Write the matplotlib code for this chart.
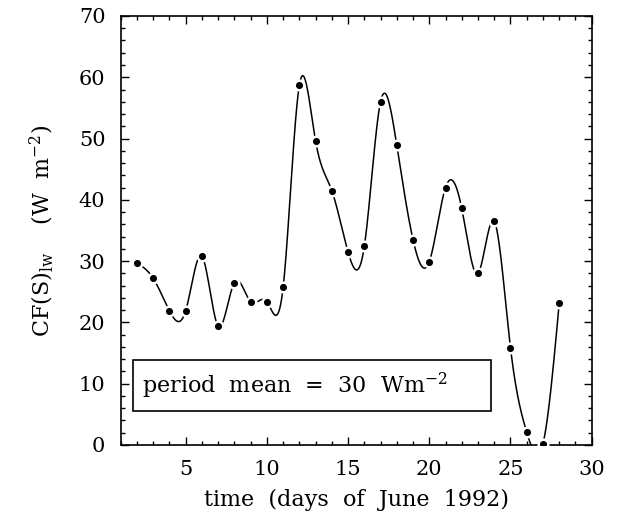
import numpy as np
import matplotlib
matplotlib.use("Agg")
import matplotlib.pyplot as plt
from matplotlib.patches import Rectangle

# ---- data ----
days = [2, 3, 4, 5, 6, 7, 8, 9, 10, 11, 12, 13, 14, 15,
        16, 17, 18, 19, 20, 21, 22, 23, 24, 25, 26, 27, 28]
cf_lw = [29.7, 27.2, 21.9, 21.9, 30.8, 19.4, 26.5, 23.4, 23.4, 25.7, 58.7, 49.6, 41.5, 31.5,
         32.4, 56.0, 48.9, 33.5, 29.9, 42.0, 38.6, 28.0, 36.5, 15.9, 2.1, 0.2, 23.1]
x_ticks = [5, 10, 15, 20, 25, 30]
y_ticks = [0, 10, 20, 30, 40, 50, 60, 70]
period_mean = 30


def natural_spline(x, y, xs):
    x = np.asarray(x, float)
    y = np.asarray(y, float)
    n = len(x)
    h = np.diff(x)
    A = np.zeros((n, n))
    b = np.zeros(n)
    A[0, 0] = 1
    A[-1, -1] = 1
    for i in range(1, n - 1):
        A[i, i - 1] = h[i - 1]
        A[i, i] = 2 * (h[i - 1] + h[i])
        A[i, i + 1] = h[i]
        b[i] = 3 * ((y[i + 1] - y[i]) / h[i] - (y[i] - y[i - 1]) / h[i - 1])
    c = np.linalg.solve(A, b)
    bb = (y[1:] - y[:-1]) / h - h * (2 * c[:-1] + c[1:]) / 3
    d = (c[1:] - c[:-1]) / (3 * h)
    idx = np.clip(np.searchsorted(x, xs) - 1, 0, n - 2)
    dx = xs - x[idx]
    return y[idx] + bb[idx] * dx + c[idx] * dx ** 2 + d[idx] * dx ** 3


plt.rcParams['font.family'] = ['DejaVu Serif']
plt.rcParams['mathtext.fontset'] = 'dejavuserif'

fig = plt.figure(figsize=(6.18, 5.19), dpi=100)
ax = fig.add_axes([0.1953, 0.1426, 0.7621, 0.8266])

xs = np.linspace(days[0], days[-1], 1500)
ax.plot(xs, natural_spline(days, cf_lw, xs), color='black', lw=1.1, zorder=2)
ax.scatter(days, cf_lw, s=75, color='white', zorder=3, linewidths=0)
ax.scatter(days, cf_lw, s=26, color='black', zorder=4, linewidths=0)

ax.set_xlim(1, 30)
ax.set_ylim(0, 70)
ax.set_xticks(x_ticks)
ax.set_yticks(y_ticks)
ax.set_xticks(np.arange(1, 31, 1), minor=True)
ax.set_yticks(np.arange(0, 71, 2), minor=True)
ax.tick_params(which='both', direction='in', top=True, right=True, labelsize=15,
               width=1.0, colors='black')
ax.tick_params(which='major', length=5.5, pad=11)
ax.tick_params(which='minor', length=2.8)
for s in ax.spines.values():
    s.set_linewidth(1.2)

ax.set_xlabel('time  (days  of  June  1992)', fontsize=16, labelpad=7)
ax.set_ylabel('CF(S)$_{\\mathrm{lw}}$    (W  m$^{-2}$)', fontsize=16, labelpad=16)

ax.add_patch(Rectangle((1.76, 5.5), 22.04, 8.4, fill=False, lw=1.2,
                       edgecolor='black', zorder=5))
ax.text(2.3, 9.7, 'period  mean  =  %d  Wm$^{-2}$' % period_mean, fontsize=16,
        va='center', ha='left', zorder=6)

fig.savefig('out.png', dpi=100)
